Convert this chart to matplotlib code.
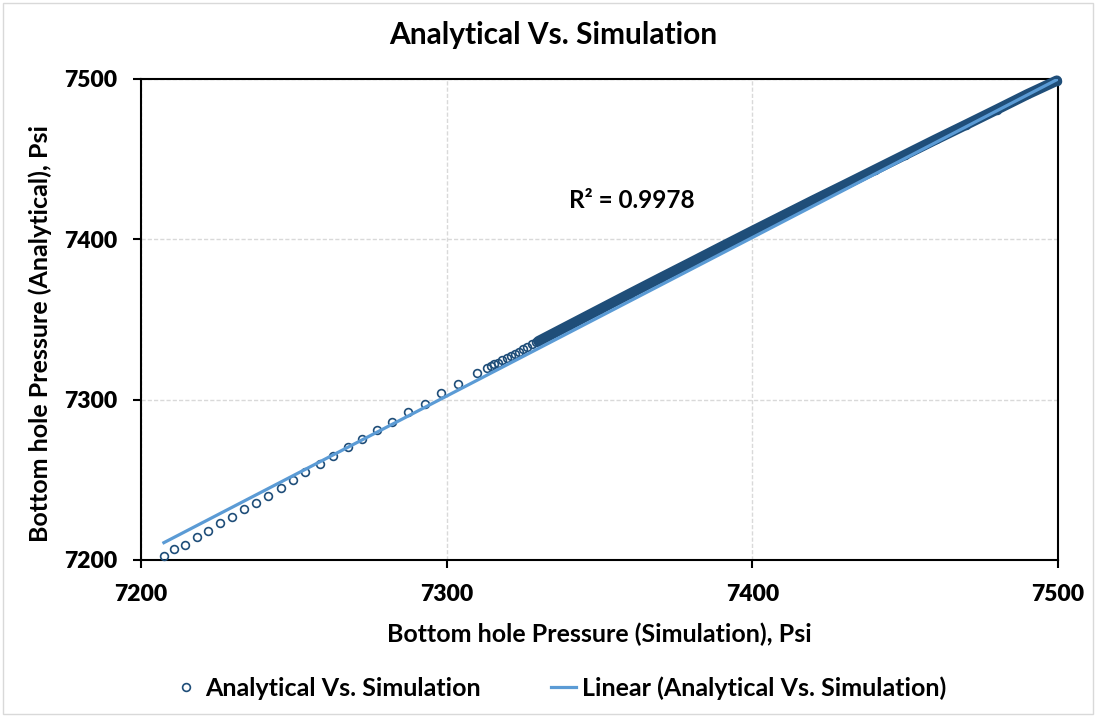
import numpy as np
import matplotlib.pyplot as plt
from matplotlib.patches import Rectangle

plt.rcParams['font.family'] = ['Lato', 'DejaVu Sans']
plt.rcParams['font.weight'] = 'bold'
plt.rcParams['axes.labelweight'] = 'bold'

# bottom hole pressure, psi: simulation (x) vs analytical (y)
# separate markers at the low end
sim_sparse = [7207.5, 7210.8, 7214.4, 7218.2, 7222.0, 7225.8, 7229.7, 7233.7,
              7237.6, 7241.6, 7245.7, 7249.8, 7253.8, 7258.6, 7262.9, 7267.8,
              7272.2, 7277.3, 7282.2, 7287.4, 7292.9, 7298.2, 7303.8, 7310.0]
ana_sparse = [7202.5, 7206.7, 7209.6, 7214.6, 7218.1, 7222.9, 7226.7, 7231.7,
              7235.8, 7240.2, 7244.8, 7250.0, 7255.0, 7260.0, 7265.0, 7270.2,
              7275.4, 7280.8, 7286.1, 7292.1, 7297.3, 7304.2, 7309.7, 7316.7]
# markers that start to overlap
sim_close = [7313.1, 7314.4, 7315.6, 7316.9, 7318.2, 7319.6, 7320.9, 7322.4,
             7323.7, 7325.1, 7326.4, 7327.8, 7329.1]
ana_close = [7319.8, 7320.8, 7321.9, 7322.9, 7324.4, 7326.1, 7327.1, 7328.6,
             7329.8, 7331.3, 7332.7, 7334.4, 7335.8]
# above ~7330 psi the markers merge into one solid band; points along it
sim_band = [7330, 7340, 7350, 7360, 7370, 7380, 7390, 7400, 7410,
            7420, 7430, 7440, 7450, 7460, 7470, 7480, 7490, 7499.6]
ana_band = [7336.4, 7346.3, 7356.2, 7366.1, 7375.9, 7385.6, 7395.4, 7405.1, 7414.7,
            7424.3, 7433.7, 7443.2, 7452.7, 7462.2, 7471.5, 7480.9, 7490.4, 7498.9]
# estimated number of stacked markers behind each band point (pile-up near initial pressure)
band_count = [1, 1, 1, 1, 1, 1, 1, 1, 1, 1, 1, 1, 1, 1, 1, 1, 1, 97]

r2_value = 0.9978
ticks = [7200, 7300, 7400, 7500]
tick_labels = ['7200', '7300', '7400', '7500']

dark = '#1f4e79'
light = '#5b9bd5'

sim = np.array(sim_sparse + sim_close + sim_band)
ana = np.array(ana_sparse + ana_close + ana_band)
count = np.array([1] * (len(sim_sparse) + len(sim_close)) + band_count)

fig = plt.figure(figsize=(10.97, 7.17), dpi=100)
ax = fig.add_axes([0.1285, 0.219, 0.836, 0.671])

# merged markers drawn as a thick stroke, then the hollow circles
ax.plot(sim_band, ana_band, color=dark, lw=7.5, solid_capstyle='round', zorder=3, clip_on=False)
ax.plot(sim, ana, 'o', ms=5.6, mfc='none', mec=dark, mew=1.2, zorder=3, clip_on=False,
        label='Analytical Vs. Simulation')

# linear trendline over every point
k, b = np.polyfit(np.repeat(sim, count), np.repeat(ana, count), 1)
xs = np.array([sim.min(), sim.max()])
ax.plot(xs, k * xs + b, color=light, lw=2.3, zorder=4,
        label='Linear (Analytical Vs. Simulation)')

ax.text(0.5355, 0.748, f'R² = {r2_value:.4f}', transform=ax.transAxes,
        ha='center', va='center', fontsize=17.5, fontweight='bold')

ax.set_xlim(7200, 7500)
ax.set_ylim(7200, 7500)
ax.tick_params(direction='out', length=6, width=1.5, pad=11)
ax.set_xticks(ticks, labels=tick_labels, fontsize=16.5, fontweight='heavy')
ax.set_yticks(ticks, labels=tick_labels, fontsize=16.5, fontweight='heavy')
for s in ax.spines.values():
    s.set_linewidth(1.5)
    s.set_color('black')
ax.grid(True, color='#d9d9d9', ls=(0, (3, 1.5)), lw=1)
ax.set_axisbelow(True)

ax.set_xlabel('Bottom hole Pressure (Simulation), Psi', fontsize=18)
ax.xaxis.set_label_coords(0.5, -0.154)
ax.xaxis.label.set_va('center')
ax.set_ylabel('Bottom hole Pressure (Analytical), Psi', fontsize=18)
ax.yaxis.set_label_coords(-0.110, 0.47)
ax.yaxis.label.set_va('center')

fig.text(0.504, 1 - 35 / 717, 'Analytical Vs. Simulation', ha='center', va='center',
         fontsize=21.5, fontweight='bold')

leg = fig.legend(loc='center', bbox_to_anchor=(560 / 1097, 1 - 688 / 717), ncol=2, frameon=False,
                 prop={'size': 18, 'weight': 'bold'}, handlelength=1.0, handletextpad=0.25,
                 columnspacing=2.8)

fig.patches.append(Rectangle((0.003, 0.004), 0.993, 0.992, transform=fig.transFigure,
                             fill=False, ec='#d9d9d9', lw=1))

fig.savefig('out.png', dpi=100)
